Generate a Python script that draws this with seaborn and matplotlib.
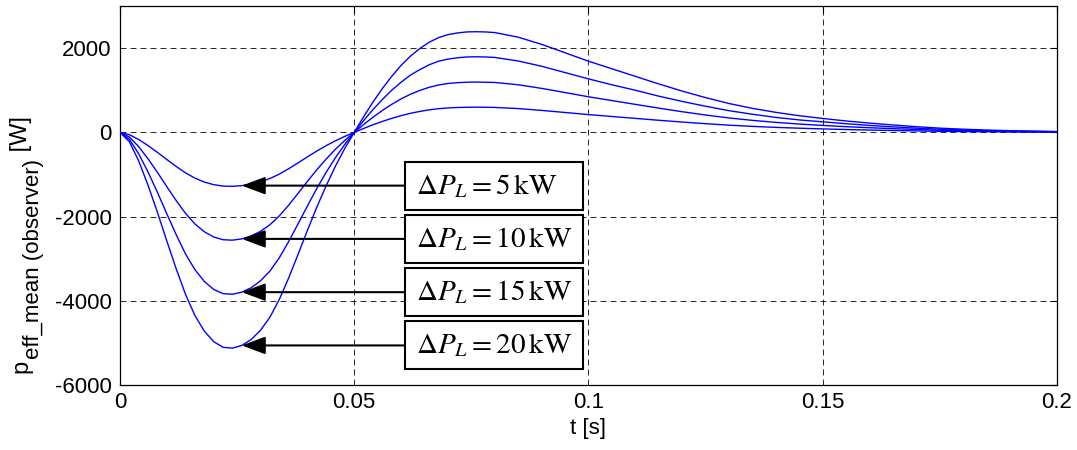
import numpy as np
import pandas as pd
import matplotlib
matplotlib.use("Agg")
import matplotlib.pyplot as plt
import seaborn as sns
from matplotlib.patches import Rectangle

# ---------------- data ----------------
t = [0.000, 0.002, 0.004, 0.006, 0.008, 0.010, 0.012, 0.014, 0.016, 0.018,
     0.020, 0.022, 0.024, 0.026, 0.028, 0.030, 0.032, 0.034, 0.036, 0.038,
     0.040, 0.042, 0.044, 0.046, 0.048, 0.050, 0.052, 0.054, 0.056, 0.058,
     0.060, 0.062, 0.064, 0.066, 0.068, 0.070, 0.072, 0.074, 0.076, 0.078,
     0.080, 0.085, 0.090, 0.095, 0.100, 0.105, 0.110, 0.115, 0.120, 0.125,
     0.130, 0.135, 0.140, 0.145, 0.150, 0.155, 0.160, 0.165, 0.170, 0.175,
     0.180, 0.185, 0.190, 0.195, 0.200]

p_5kW = [0, -55, -170, -315, -475, -645, -810, -962, -1087, -1180,
         -1242, -1276, -1281, -1265, -1230, -1175, -1097, -992, -865, -725,
         -582, -445, -317, -200, -95, 0, 92, 180, 260, 332,
         397, 452, 497, 535, 562, 580, 590, 596, 598, 596,
         592, 565, 522, 472, 422, 377, 332, 287, 245, 206,
         171, 142, 118, 99, 82, 67, 55, 44, 34, 25,
         19, 14, 10, 8, 5]

p_10kW = [0, -110, -340, -630, -950, -1290, -1620, -1925, -2175, -2360,
          -2485, -2550, -2560, -2530, -2460, -2350, -2195, -1985, -1730, -1450,
          -1165, -890, -635, -400, -190, 0, 185, 360, 520, 665,
          795, 905, 995, 1070, 1125, 1160, 1180, 1190, 1195, 1190,
          1185, 1130, 1045, 945, 845, 755, 665, 575, 490, 412,
          342, 285, 237, 197, 165, 135, 110, 88, 68, 50,
          38, 28, 20, 15, 10]

p_15kW = [0, -165, -510, -945, -1425, -1935, -2430, -2890, -3260, -3540,
          -3730, -3830, -3845, -3795, -3690, -3525, -3295, -2980, -2595, -2175,
          -1750, -1335, -950, -600, -285, 0, 280, 540, 780, 1000,
          1190, 1360, 1490, 1605, 1690, 1740, 1770, 1790, 1795, 1790,
          1780, 1695, 1570, 1420, 1270, 1130, 1000, 860, 735, 620,
          515, 430, 355, 295, 250, 205, 165, 130, 100, 75,
          55, 40, 30, 22, 15]

p_20kW = [0, -220, -680, -1260, -1900, -2580, -3240, -3850, -4350, -4720,
          -4970, -5105, -5125, -5060, -4920, -4700, -4390, -3970, -3460, -2900,
          -2330, -1780, -1270, -800, -380, 0, 370, 720, 1040, 1330,
          1590, 1810, 1990, 2140, 2250, 2320, 2360, 2385, 2390, 2385,
          2370, 2260, 2090, 1890, 1690, 1510, 1330, 1150, 980, 825,
          685, 570, 475, 395, 330, 270, 220, 175, 135, 100,
          75, 55, 40, 30, 20]

load_kW = ["5", "10", "15", "20"]
series = [p_5kW, p_10kW, p_15kW, p_20kW]

x_ticks = [0, 0.05, 0.1, 0.15, 0.2]
x_tick_labels = ["0", "0.05", "0.1", "0.15", "0.2"]
y_ticks = [-6000, -4000, -2000, 0, 2000]
y_tick_labels = ["-6000", "-4000", "-2000", "0", "2000"]

ylabel_main = "p"
ylabel_sub = "eff_mean (observer)"
ylabel_unit = " [W]"
xlabel = "t [s]"

# annotation geometry (styling constants)
arrow_t = 0.026          # arrow tip time (on the curves)
box_left = 0.0609
box_width = 0.0380
box_height = 1140
text_left = 0.0631

# ---------------- style ----------------
sns.set_theme(style="white")
plt.rcParams["font.family"] = ["Liberation Sans", "DejaVu Sans"]
plt.rcParams["lines.scale_dashes"] = False
plt.rcParams["axes.edgecolor"] = "black"

W, H = 1077, 450
fig = plt.figure(figsize=(W / 100, H / 100), dpi=100)
ax = fig.add_axes([0.1114, 0.1444, 0.8700, 0.8422])

df = pd.concat(
    [pd.DataFrame({"t": t, "p": v, "load": lab}) for lab, v in zip(load_kW, series)],
    ignore_index=True,
)
sns.lineplot(data=df, x="t", y="p", hue="load", palette=["#0000ff"] * 4,
             legend=False, ax=ax, linewidth=1.0, estimator=None, sort=False,
             zorder=3)

ax.set_xlim(0, 0.2)
ax.set_ylim(-6000, 3000)
ax.set_xticks(x_ticks)
ax.set_xticklabels(x_tick_labels)
ax.set_yticks(y_ticks)
ax.set_yticklabels(y_tick_labels)
ax.tick_params(direction="in", length=5, width=0.8, top=True, right=True,
               labelsize=16, colors="black", pad=6)
ax.tick_params(axis="x", pad=5)

ax.grid(True, color="black", linewidth=0.7, linestyle=(0, (4.3, 2.9)), alpha=0.85)
ax.set_axisbelow(True)
for s in ax.spines.values():
    s.set_linewidth(0.9)
    s.set_color("black")

ax.set_xlabel(xlabel, fontsize=16, color="black")
ax.xaxis.set_label_coords(0.5, -0.086)
ax.set_ylabel("")

# y label built from pieces (main letter, subscript, unit)
renderer = fig.canvas.get_renderer()
base_x = 27
sub_x = 39
y_start = H - 373
t1 = fig.text(base_x / W, y_start / H, ylabel_main, rotation=90,
              rotation_mode="anchor", ha="left", va="baseline", fontsize=17,
              color="black")
bb1 = t1.get_window_extent(renderer)
t2 = fig.text(sub_x / W, (bb1.y1 + 1) / H, ylabel_sub, rotation=90,
              rotation_mode="anchor", ha="left", va="baseline", fontsize=16,
              color="black")
bb2 = t2.get_window_extent(renderer)
t3 = fig.text(base_x / W, (bb2.y1 + 1) / H, ylabel_unit, rotation=90,
              rotation_mode="anchor", ha="left", va="baseline", fontsize=17,
              color="black")

# annotations: arrows pointing from boxes to the curves
idx = t.index(arrow_t)
for lab, v in zip(load_kW, series):
    level = v[idx]
    ax.annotate("", xy=(arrow_t, level), xytext=(box_left, level),
                arrowprops=dict(arrowstyle="-|>,head_length=1.44,head_width=0.54",
                                color="black", lw=1.5, shrinkA=0, shrinkB=0,
                                mutation_scale=10),
                zorder=5)
    ax.add_patch(Rectangle((box_left, level - box_height / 2), box_width, box_height,
                           facecolor="white", edgecolor="black", lw=1.5, zorder=6))
    ax.text(text_left, level, r"$\Delta P_L = %s\,\mathrm{kW}$" % lab,
            fontsize=21, ha="left", va="center", math_fontfamily="stix",
            color="black", zorder=7)

fig.savefig("out.png", dpi=100)
